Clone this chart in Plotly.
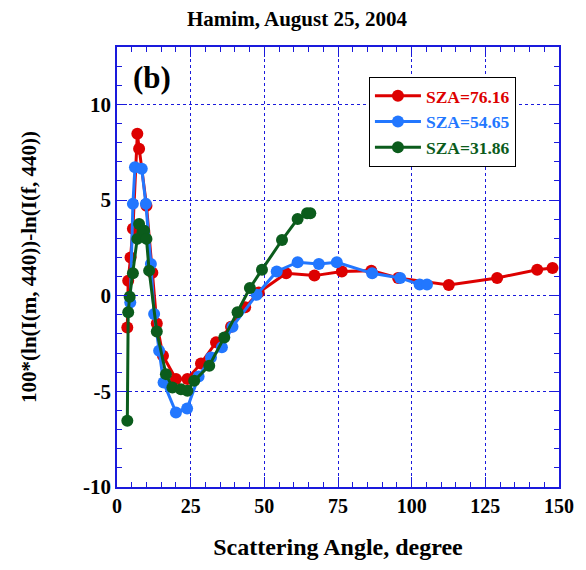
import plotly.graph_objects as go

# Data
red_x = [3.5, 3.8, 4.6, 5.4, 6.9, 7.5, 10.0, 12.0, 13.5, 15.6, 20.0, 23.9, 28.5, 33.6, 38.7, 43.5,
         48.1, 57.4, 67.0, 76.3, 86.3, 95.4, 112.6, 129.0, 142.6, 147.8]
red_y = [-1.66, 0.78, 2.0, 3.5, 8.46, 7.68, 4.7, 1.2, -1.45, -3.14, -4.36, -4.36, -3.54, -2.44, -1.62, -0.61,
         0.17, 1.17, 1.05, 1.26, 1.31, 0.93, 0.56, 0.93, 1.36, 1.45]

blue_x = [4.5, 5.4, 6.1, 8.4, 9.8, 11.5, 12.6, 14.3, 15.8, 20.0, 23.8, 27.7, 31.9, 35.6, 39.2, 47.4,
          54.2, 61.3, 68.5, 74.6, 86.6, 96.1, 102.7, 105.2]
blue_y = [-0.35, 4.8, 6.72, 6.63, 4.8, 1.66, -0.96, -2.88, -4.54, -6.1, -5.9, -4.22, -3.23, -2.7, -1.62, 0.05,
          1.27, 1.75, 1.66, 1.75, 1.17, 0.93, 0.58, 0.58]

green_x = [3.5, 3.8, 4.3, 5.4, 6.9, 7.5, 9.2, 10.0, 10.9, 13.5, 16.6, 18.8, 21.7, 23.9, 26.2, 31.3,
           36.4, 40.9, 45.1, 49.2, 56.0, 61.3, 64.5, 65.6]
green_y = [-6.54, -0.87, -0.05, 1.17, 2.97, 3.75, 3.4, 2.97, 1.31, -1.87, -4.1, -4.8, -4.89, -4.97, -4.45, -3.66,
           -2.18, -0.87, 0.4, 1.36, 2.91, 4.01, 4.31, 4.31]

series_names = ["SZA=76.16", "SZA=54.65", "SZA=31.86"]
series_colors = ["#dd0000", "#2277ff", "#0b5c1c"]

x_ticks = [0, 25, 50, 75, 100, 125, 150]
y_ticks = [-10, -5, 0, 5, 10]
y_ticktext = ["-10", "-5", "0", "5", "10"]

FONT = "Liberation Serif"
AXC = "#1a1adc"

fig = go.Figure()
for xs, ys, nm, col in zip([red_x, blue_x, green_x], [red_y, blue_y, green_y], series_names, series_colors):
    fig.add_trace(go.Scatter(
        x=xs, y=ys, mode="lines+markers",
        name=f"<span style='color:{col}'><b>{nm}</b></span>",
        line=dict(color=col, width=3),
        marker=dict(color=col, size=12),
    ))

axis_common = dict(
    showline=True, linecolor=AXC, linewidth=1.5, mirror="allticks",
    ticks="inside", ticklen=10, tickcolor=AXC, tickwidth=1,
    showgrid=True, gridcolor=AXC, griddash="dot", gridwidth=1,
    zeroline=False, automargin=False,
)

fig.update_xaxes(
    range=[0, 150], tickvals=x_ticks,
    tickfont=dict(family=FONT, size=20, color="black", weight="bold"),
    minor=dict(ticks="inside", dtick=5, ticklen=5, tickcolor=AXC, showgrid=False),
    title=dict(text="<b>Scattering Angle, degree</b>", font=dict(family=FONT, size=24, color="black"), standoff=22),
    **axis_common,
)
fig.update_yaxes(
    range=[-10, 13], tickvals=y_ticks, ticktext=y_ticktext,
    tickfont=dict(family=FONT, size=21, color="black", weight="bold"),
    minor=dict(ticks="inside", dtick=1, ticklen=5, tickcolor=AXC, showgrid=False),
    title=dict(text="<b>100*(ln(I(m, 440))-ln(I(f, 440))</b>", font=dict(family=FONT, size=21, color="black"), standoff=41),
    **axis_common,
)

fig.add_annotation(
    x=0.032, y=0.93, xref="paper", yref="paper", xanchor="left", yanchor="middle",
    text="<b>(b)</b>", showarrow=False, font=dict(family=FONT, size=31, color="black"),
)

fig.update_layout(
    width=578, height=562,
    margin=dict(l=109, r=27, t=39, b=83),
    paper_bgcolor="white", plot_bgcolor="white",
    title=dict(text="<b>Hamim, August 25, 2004</b>", x=0.50, xanchor="center",
               yref="container", y=0.995, yanchor="top",
               font=dict(family=FONT, size=21, color="black")),
    showlegend=True,
    legend=dict(
        x=0.57, y=0.932, xanchor="left", yanchor="top",
        bgcolor="white", bordercolor="black", borderwidth=1,
        font=dict(family=FONT, size=17.5, color="black"),
        itemwidth=46, tracegroupgap=0,
    ),
)

fig.write_html("out.html")
